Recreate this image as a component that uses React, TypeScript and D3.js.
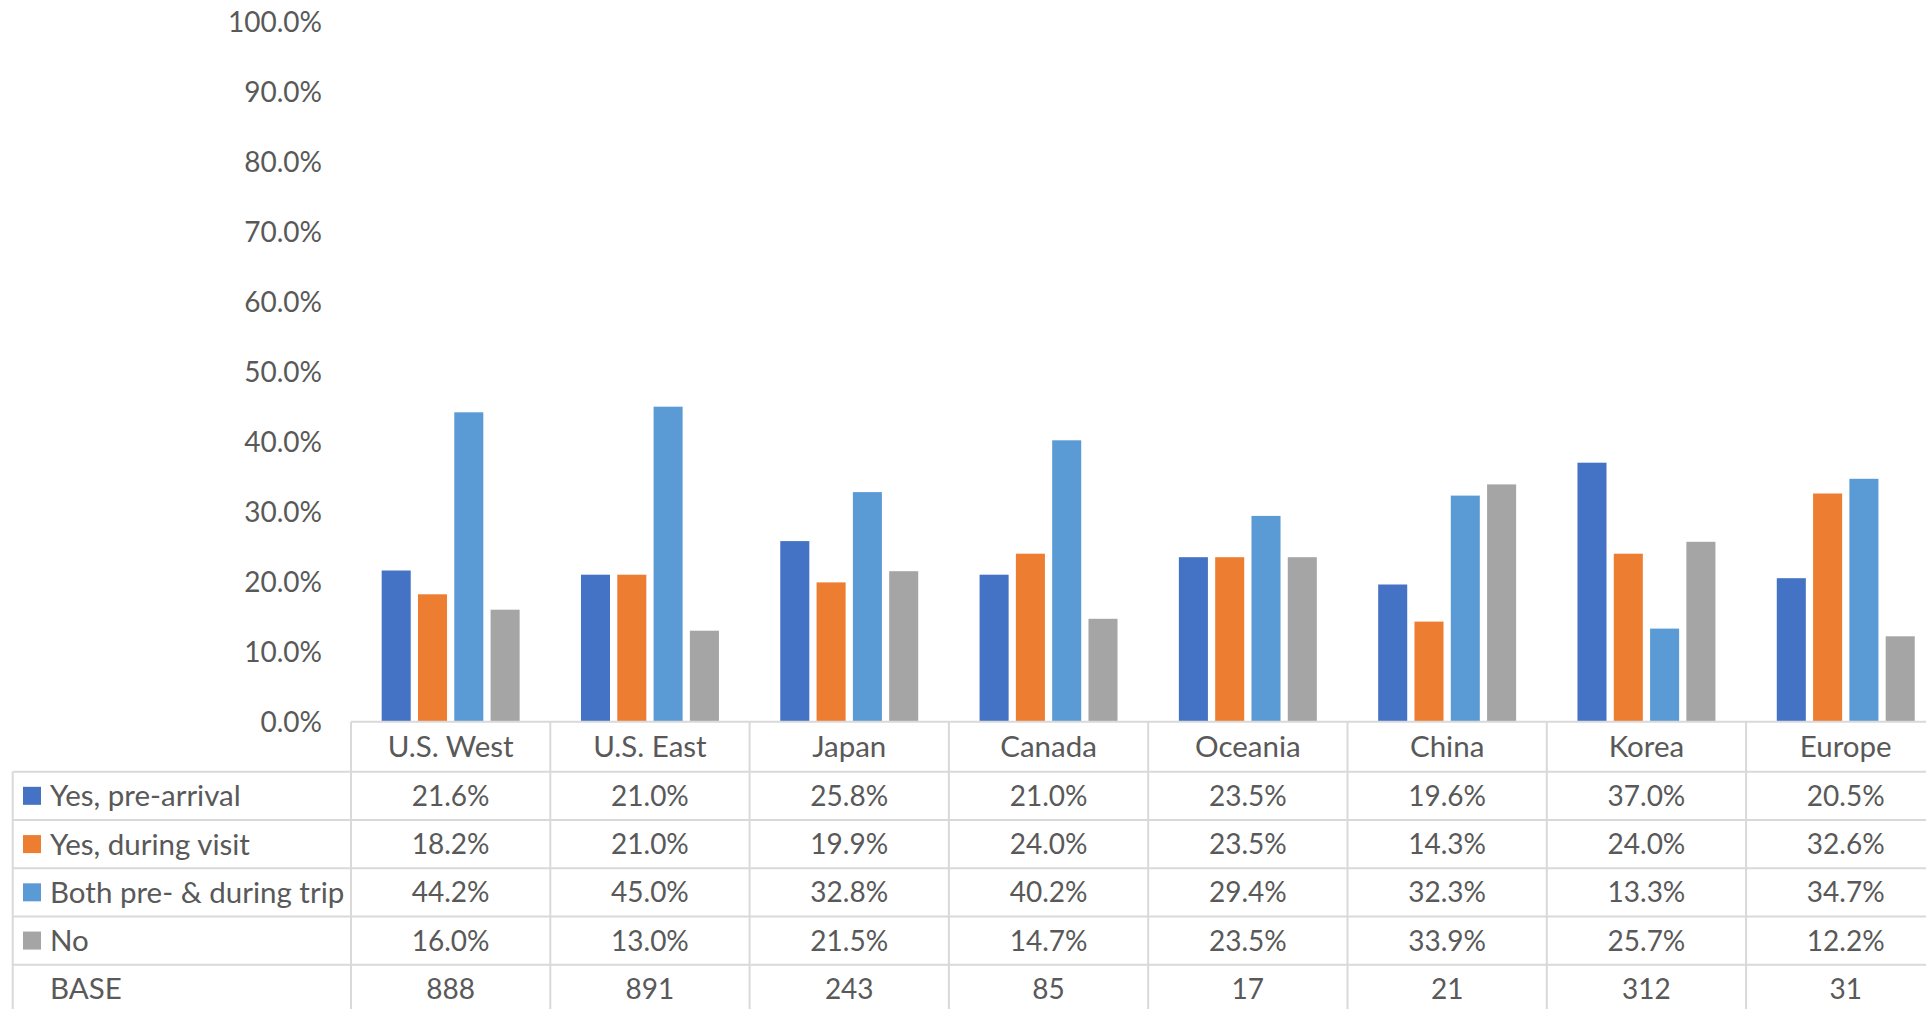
import React from "react";
import * as d3 from "d3";

const categories = ["U.S. West", "U.S. East", "Japan", "Canada", "Oceania", "China", "Korea", "Europe"];
const seriesNames = ["Yes, pre-arrival", "Yes, during visit", "Both pre- & during trip", "No"];
const seriesColors = ["#4472C4", "#ED7D31", "#5B9BD5", "#A5A5A5"];

const preArrival = [21.6, 21.0, 25.8, 21.0, 23.5, 19.6, 37.0, 20.5];
const duringVisit = [18.2, 21.0, 19.9, 24.0, 23.5, 14.3, 24.0, 32.6];
const bothTrip = [44.2, 45.0, 32.8, 40.2, 29.4, 32.3, 13.3, 34.7];
const noUse = [16.0, 13.0, 21.5, 14.7, 23.5, 33.9, 25.7, 12.2];
const baseCounts = [888, 891, 243, 85, 17, 21, 312, 31];

const yTicks = [0, 10, 20, 30, 40, 50, 60, 70, 80, 90, 100];

const seriesValues = [preArrival, duringVisit, bothTrip, noUse];

export default function App() {
  const width = 1926;
  const height = 1009;

  // plot area (the last category runs past the right edge, as in the source)
  const plotLeft = 351;
  const catWidth = 199.3;
  const plotRight = plotLeft + catWidth * categories.length;
  const zeroY = 721.7;
  const topY = 21.7;

  const x0 = d3.scaleBand<string>().domain(categories).range([plotLeft, plotRight]);
  const x1 = d3
    .scaleBand<string>()
    .domain(seriesNames)
    .range([0, x0.bandwidth()])
    .paddingInner(0.2)
    .paddingOuter(0.845);
  const y = d3.scaleLinear().domain([0, 100]).range([zeroY, topY]);

  // table rows
  const tableLeft = 12.7;
  const headerTop = zeroY;
  const headerBottom = 771.7;
  const rowH = 48.25;
  const rowLabels = [...seriesNames, "BASE"];
  const rowY = d3.scaleBand<string>().domain(rowLabels).range([headerBottom, headerBottom + rowH * rowLabels.length]);

  const font = "Lato, 'Open Sans', sans-serif";
  const textColor = "#595959";
  const lineColor = "#D9D9D9";
  const fsNum = 28; // numbers
  const fsWord = 29.5; // words (category / row labels)
  const dy = 3;

  const cellText = (row: number, col: number) =>
    row < 4 ? `${seriesValues[row][col].toFixed(1)}%` : `${baseCounts[col]}`;

  return (
    <svg
      width={width}
      height={height}
      style={{ position: "absolute", left: 0, top: 0, display: "block", background: "#fff" }}
      fontFamily={font}
    >
      <rect width={width} height={height} fill="#fff" />

      {/* y axis labels */}
      {yTicks.map((t) => (
        <text
          key={t}
          x={322}
          y={y(t) + dy}
          textAnchor="end"
          dominantBaseline="middle"
          fontSize={fsNum}
          fill={textColor}
        >
          {`${t.toFixed(1)}%`}
        </text>
      ))}

      {/* bars */}
      {categories.map((c, ci) => (
        <g key={c} transform={`translate(${x0(c)},0)`}>
          {seriesNames.map((s, si) => (
            <rect
              key={s}
              x={x1(s)}
              y={y(seriesValues[si][ci])}
              width={x1.bandwidth()}
              height={zeroY - y(seriesValues[si][ci])}
              fill={seriesColors[si]}
            />
          ))}
        </g>
      ))}

      {/* table grid */}
      <line x1={plotLeft} x2={width} y1={headerTop} y2={headerTop} stroke={lineColor} strokeWidth={2} />
      {rowLabels.map((r) => (
        <line key={r} x1={tableLeft} x2={width} y1={rowY(r)} y2={rowY(r)} stroke={lineColor} strokeWidth={2} />
      ))}
      <line x1={tableLeft} x2={tableLeft} y1={headerBottom} y2={height} stroke={lineColor} strokeWidth={2} />
      {categories.map((c) => (
        <line key={c} x1={x0(c)} x2={x0(c)} y1={headerTop} y2={height} stroke={lineColor} strokeWidth={2} />
      ))}

      {/* category header */}
      {categories.map((c) => (
        <text
          key={c}
          x={(x0(c) ?? 0) + x0.bandwidth() / 2}
          y={(headerTop + headerBottom) / 2 + dy}
          textAnchor="middle"
          dominantBaseline="middle"
          fontSize={fsWord}
          fill={textColor}
        >
          {c}
        </text>
      ))}

      {/* row labels with legend keys */}
      {rowLabels.map((r, ri) => {
        const cy = (rowY(r) ?? 0) + rowY.bandwidth() / 2;
        return (
          <g key={r}>
            {ri < 4 && <rect x={23} y={cy - 9} width={18} height={18} fill={seriesColors[ri]} />}
            <text x={50} y={cy + dy} dominantBaseline="middle" fontSize={fsWord} fill={textColor}>
              {r}
            </text>
          </g>
        );
      })}

      {/* cell values */}
      {rowLabels.map((r, ri) =>
        categories.map((c, ci) => (
          <text
            key={`${r}-${c}`}
            x={(x0(c) ?? 0) + x0.bandwidth() / 2}
            y={(rowY(r) ?? 0) + rowY.bandwidth() / 2 + dy}
            textAnchor="middle"
            dominantBaseline="middle"
            fontSize={fsNum}
            fill={textColor}
          >
            {cellText(ri, ci)}
          </text>
        ))
      )}
    </svg>
  );
}
